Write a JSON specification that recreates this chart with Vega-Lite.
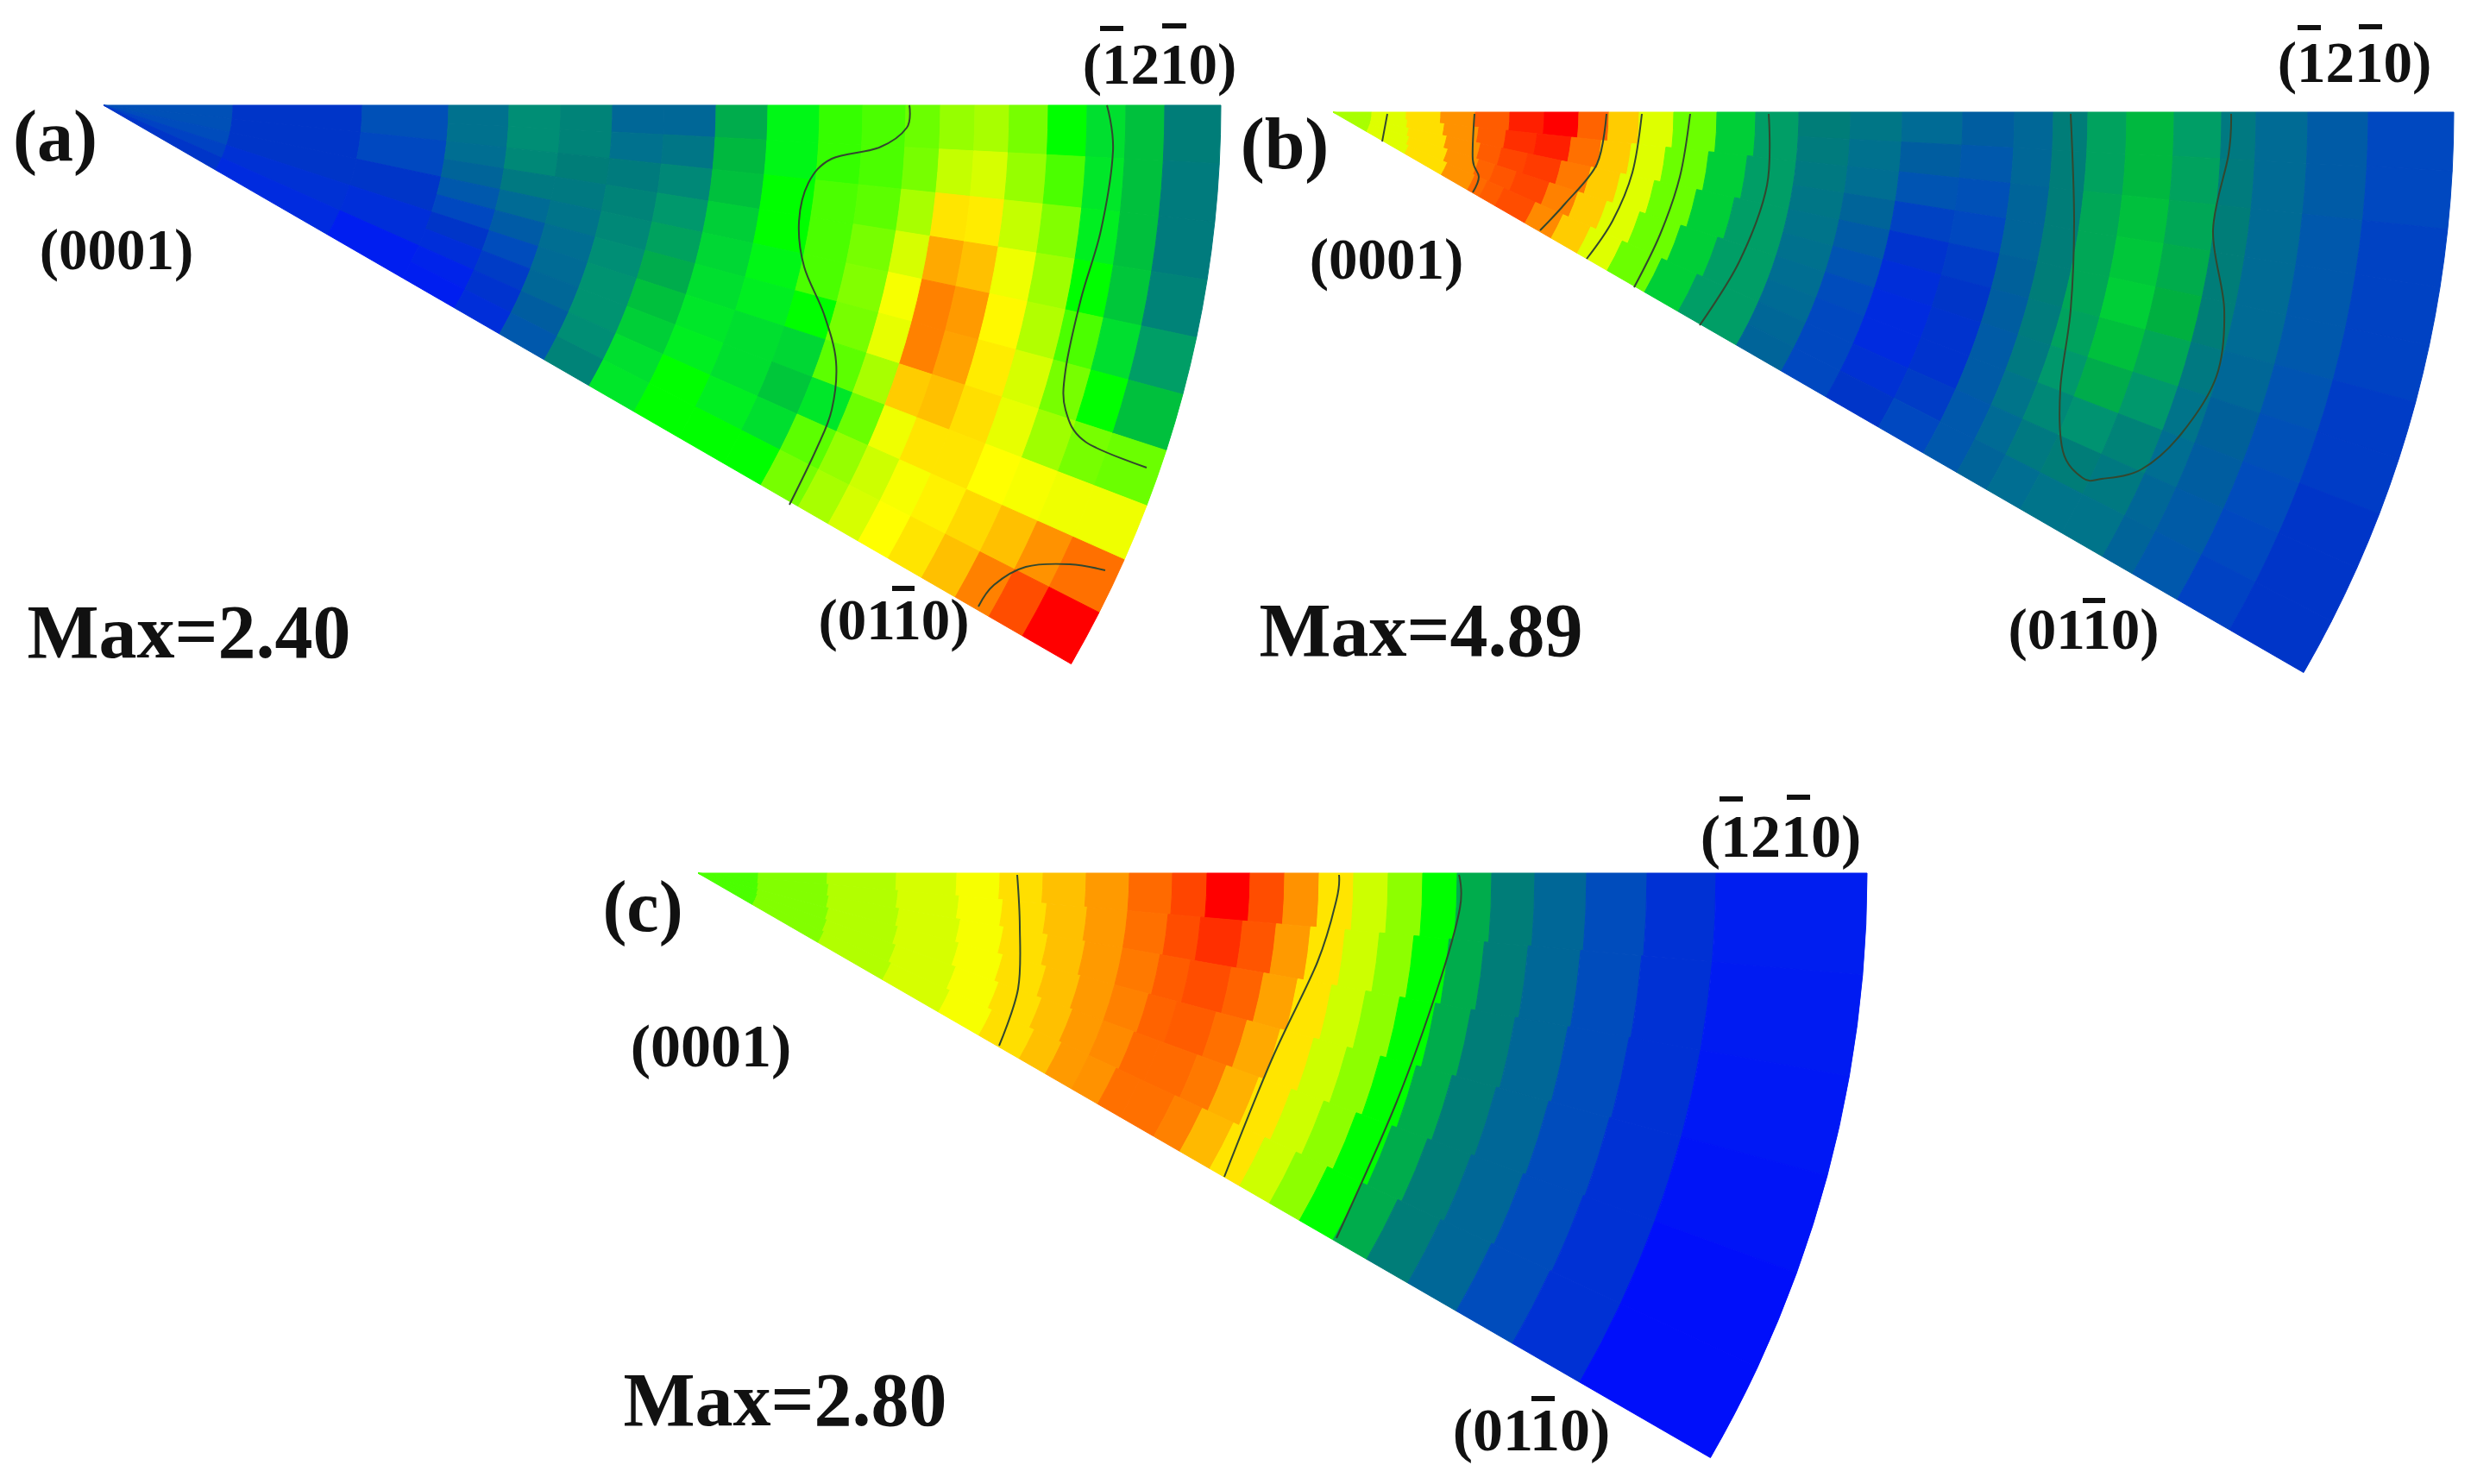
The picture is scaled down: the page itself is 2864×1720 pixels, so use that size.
{"$schema":"https://vega.github.io/schema/vega-lite/v6.json","width":2864,"height":1720,"autosize":{"type":"fit","contains":"padding"},"padding":0,"background":"white","view":{"stroke":null},
"datasets":{
"pa":[
{"a":0,"a2":6,"r":0,"r2":150,"v":1.5},{"a":6,"a2":12,"r":0,"r2":150,"v":1.5},{"a":12,"a2":18,"r":0,"r2":150,"v":1.4},{"a":18,"a2":24,"r":0,"r2":150,"v":1.2},{"a":24,"a2":30,"r":0,"r2":150,"v":1.0},
{"a":0,"a2":6,"r":150,"r2":300,"v":1.0},{"a":6,"a2":12,"r":150,"r2":300,"v":1.0},{"a":12,"a2":18,"r":150,"r2":300,"v":1.0},{"a":18,"a2":24,"r":150,"r2":300,"v":0.8},{"a":24,"a2":30,"r":150,"r2":300,"v":0.6},
{"a":0,"a2":6,"r":300,"r2":400,"v":1.5},{"a":6,"a2":12,"r":300,"r2":400,"v":1.3},{"a":12,"a2":18,"r":300,"r2":400,"v":1.0},{"a":18,"a2":24,"r":300,"r2":400,"v":0.7},{"a":24,"a2":30,"r":300,"r2":400,"v":0.3},
{"a":0,"a2":3,"r":400,"r2":470,"v":2.5},{"a":3,"a2":6,"r":400,"r2":470,"v":2.5},{"a":6,"a2":9,"r":400,"r2":470,"v":2.4},{"a":9,"a2":12,"r":400,"r2":470,"v":2.1},{"a":12,"a2":15,"r":400,"r2":470,"v":1.7},{"a":15,"a2":18,"r":400,"r2":470,"v":1.3},{"a":18,"a2":21,"r":400,"r2":470,"v":1.0},{"a":21,"a2":24,"r":400,"r2":470,"v":0.7},{"a":24,"a2":27,"r":400,"r2":470,"v":0.4},{"a":27,"a2":30,"r":400,"r2":470,"v":0.3},
{"a":0,"a2":3,"r":470,"r2":530,"v":3.3},{"a":3,"a2":6,"r":470,"r2":530,"v":3.3},{"a":6,"a2":9,"r":470,"r2":530,"v":3.2},{"a":9,"a2":12,"r":470,"r2":530,"v":2.8},{"a":12,"a2":15,"r":470,"r2":530,"v":2.3},{"a":15,"a2":18,"r":470,"r2":530,"v":1.8},{"a":18,"a2":21,"r":470,"r2":530,"v":1.4},{"a":21,"a2":24,"r":470,"r2":530,"v":1.1},{"a":24,"a2":27,"r":470,"r2":530,"v":0.9},{"a":27,"a2":30,"r":470,"r2":530,"v":0.7},
{"a":0,"a2":3,"r":530,"r2":590,"v":3.1},{"a":3,"a2":6,"r":530,"r2":590,"v":3.1},{"a":6,"a2":9,"r":530,"r2":590,"v":3.0},{"a":9,"a2":12,"r":530,"r2":590,"v":2.8},{"a":12,"a2":15,"r":530,"r2":590,"v":2.6},{"a":15,"a2":18,"r":530,"r2":590,"v":2.4},{"a":18,"a2":21,"r":530,"r2":590,"v":2.3},{"a":21,"a2":24,"r":530,"r2":590,"v":2.2},{"a":24,"a2":27,"r":530,"r2":590,"v":1.9},{"a":27,"a2":30,"r":530,"r2":590,"v":1.7},
{"a":0,"a2":3,"r":590,"r2":650,"v":2.2},{"a":3,"a2":6,"r":590,"r2":650,"v":2.5},{"a":6,"a2":9,"r":590,"r2":650,"v":2.9},{"a":9,"a2":12,"r":590,"r2":650,"v":3.1},{"a":12,"a2":15,"r":590,"r2":650,"v":3.2},{"a":15,"a2":18,"r":590,"r2":650,"v":3.3},{"a":18,"a2":21,"r":590,"r2":650,"v":3.4},{"a":21,"a2":24,"r":590,"r2":650,"v":3.4},{"a":24,"a2":27,"r":590,"r2":650,"v":3.3},{"a":27,"a2":30,"r":590,"r2":650,"v":3.1},
{"a":0,"a2":3,"r":650,"r2":710,"v":2.2},{"a":3,"a2":6,"r":650,"r2":710,"v":2.7},{"a":6,"a2":9,"r":650,"r2":710,"v":3.2},{"a":9,"a2":12,"r":650,"r2":710,"v":3.5},{"a":12,"a2":15,"r":650,"r2":710,"v":3.7},{"a":15,"a2":18,"r":650,"r2":710,"v":3.9},{"a":18,"a2":21,"r":650,"r2":710,"v":4.2},{"a":21,"a2":24,"r":650,"r2":710,"v":4.4},{"a":24,"a2":27,"r":650,"r2":710,"v":4.6},{"a":27,"a2":30,"r":650,"r2":710,"v":4.7},
{"a":0,"a2":3,"r":710,"r2":770,"v":3.9},{"a":3,"a2":6,"r":710,"r2":770,"v":4.1},{"a":6,"a2":9,"r":710,"r2":770,"v":4.2},{"a":9,"a2":12,"r":710,"r2":770,"v":4.4},{"a":12,"a2":15,"r":710,"r2":770,"v":4.5},{"a":15,"a2":18,"r":710,"r2":770,"v":4.6},{"a":18,"a2":21,"r":710,"r2":770,"v":4.7},{"a":21,"a2":24,"r":710,"r2":770,"v":4.8},{"a":24,"a2":27,"r":710,"r2":770,"v":5.0},{"a":27,"a2":30,"r":710,"r2":770,"v":5.0},
{"a":0,"a2":3,"r":770,"r2":830,"v":4.9},{"a":3,"a2":6,"r":770,"r2":830,"v":4.9},{"a":6,"a2":9,"r":770,"r2":830,"v":5.0},{"a":9,"a2":12,"r":770,"r2":830,"v":5.0},{"a":12,"a2":15,"r":770,"r2":830,"v":4.9},{"a":15,"a2":18,"r":770,"r2":830,"v":4.8},{"a":18,"a2":21,"r":770,"r2":830,"v":4.6},{"a":21,"a2":24,"r":770,"r2":830,"v":4.6},{"a":24,"a2":27,"r":770,"r2":830,"v":4.8},{"a":27,"a2":30,"r":770,"r2":830,"v":5.0},
{"a":0,"a2":3,"r":830,"r2":880,"v":5.1},{"a":3,"a2":6,"r":830,"r2":880,"v":5.1},{"a":6,"a2":9,"r":830,"r2":880,"v":5.2},{"a":9,"a2":12,"r":830,"r2":880,"v":5.2},{"a":12,"a2":15,"r":830,"r2":880,"v":5.2},{"a":15,"a2":18,"r":830,"r2":880,"v":5.0},{"a":18,"a2":21,"r":830,"r2":880,"v":4.5},{"a":21,"a2":24,"r":830,"r2":880,"v":4.3},{"a":24,"a2":27,"r":830,"r2":880,"v":4.6},{"a":27,"a2":30,"r":830,"r2":880,"v":5.0},
{"a":0,"a2":3,"r":880,"r2":930,"v":5.2},{"a":3,"a2":6,"r":880,"r2":930,"v":5.2},{"a":6,"a2":9,"r":880,"r2":930,"v":5.3},{"a":9,"a2":12,"r":880,"r2":930,"v":5.5},{"a":12,"a2":15,"r":880,"r2":930,"v":5.6},{"a":15,"a2":18,"r":880,"r2":930,"v":5.5},{"a":18,"a2":21,"r":880,"r2":930,"v":5.3},{"a":21,"a2":24,"r":880,"r2":930,"v":4.7},{"a":24,"a2":27,"r":880,"r2":930,"v":5.3},{"a":27,"a2":30,"r":880,"r2":930,"v":5.5},
{"a":0,"a2":3,"r":930,"r2":970,"v":5.4},{"a":3,"a2":6,"r":930,"r2":970,"v":5.5},{"a":6,"a2":9,"r":930,"r2":970,"v":6.0},{"a":9,"a2":12,"r":930,"r2":970,"v":6.5},{"a":12,"a2":15,"r":930,"r2":970,"v":6.9},{"a":15,"a2":18,"r":930,"r2":970,"v":6.7},{"a":18,"a2":21,"r":930,"r2":970,"v":6.0},{"a":21,"a2":24,"r":930,"r2":970,"v":5.4},{"a":24,"a2":27,"r":930,"r2":970,"v":5.8},{"a":27,"a2":30,"r":930,"r2":970,"v":6.0},
{"a":0,"a2":3,"r":970,"r2":1010,"v":5.8},{"a":3,"a2":6,"r":970,"r2":1010,"v":6.3},{"a":6,"a2":9,"r":970,"r2":1010,"v":7.4},{"a":9,"a2":12,"r":970,"r2":1010,"v":8.3},{"a":12,"a2":15,"r":970,"r2":1010,"v":8.8},{"a":15,"a2":18,"r":970,"r2":1010,"v":8.8},{"a":18,"a2":21,"r":970,"r2":1010,"v":7.8},{"a":21,"a2":24,"r":970,"r2":1010,"v":6.8},{"a":24,"a2":27,"r":970,"r2":1010,"v":6.4},{"a":27,"a2":30,"r":970,"r2":1010,"v":6.5},
{"a":0,"a2":3,"r":1010,"r2":1050,"v":6.0},{"a":3,"a2":6,"r":1010,"r2":1050,"v":6.5},{"a":6,"a2":9,"r":1010,"r2":1050,"v":7.3},{"a":9,"a2":12,"r":1010,"r2":1050,"v":8.0},{"a":12,"a2":15,"r":1010,"r2":1050,"v":8.5},{"a":15,"a2":18,"r":1010,"r2":1050,"v":8.4},{"a":18,"a2":21,"r":1010,"r2":1050,"v":8.0},{"a":21,"a2":24,"r":1010,"r2":1050,"v":7.4},{"a":24,"a2":27,"r":1010,"r2":1050,"v":6.9},{"a":27,"a2":30,"r":1010,"r2":1050,"v":7.0},
{"a":0,"a2":3,"r":1050,"r2":1095,"v":5.5},{"a":3,"a2":6,"r":1050,"r2":1095,"v":5.8},{"a":6,"a2":9,"r":1050,"r2":1095,"v":6.3},{"a":9,"a2":12,"r":1050,"r2":1095,"v":6.8},{"a":12,"a2":15,"r":1050,"r2":1095,"v":7.1},{"a":15,"a2":18,"r":1050,"r2":1095,"v":7.3},{"a":18,"a2":21,"r":1050,"r2":1095,"v":7.5},{"a":21,"a2":24,"r":1050,"r2":1095,"v":7.4},{"a":24,"a2":27,"r":1050,"r2":1095,"v":7.2},{"a":27,"a2":30,"r":1050,"r2":1095,"v":7.4},
{"a":0,"a2":3,"r":1095,"r2":1140,"v":5.0},{"a":3,"a2":6,"r":1095,"r2":1140,"v":5.2},{"a":6,"a2":9,"r":1095,"r2":1140,"v":5.6},{"a":9,"a2":12,"r":1095,"r2":1140,"v":5.9},{"a":12,"a2":15,"r":1095,"r2":1140,"v":6.1},{"a":15,"a2":18,"r":1095,"r2":1140,"v":6.5},{"a":18,"a2":21,"r":1095,"r2":1140,"v":6.7},{"a":21,"a2":24,"r":1095,"r2":1140,"v":7.0},{"a":24,"a2":27,"r":1095,"r2":1140,"v":7.6},{"a":27,"a2":30,"r":1095,"r2":1140,"v":8.0},
{"a":0,"a2":3,"r":1140,"r2":1185,"v":4.6},{"a":3,"a2":6,"r":1140,"r2":1185,"v":4.7},{"a":6,"a2":9,"r":1140,"r2":1185,"v":4.8},{"a":9,"a2":12,"r":1140,"r2":1185,"v":5.0},{"a":12,"a2":15,"r":1140,"r2":1185,"v":5.2},{"a":15,"a2":18,"r":1140,"r2":1185,"v":5.5},{"a":18,"a2":21,"r":1140,"r2":1185,"v":5.9},{"a":21,"a2":24,"r":1140,"r2":1185,"v":6.9},{"a":24,"a2":27,"r":1140,"r2":1185,"v":8.0},{"a":27,"a2":30,"r":1140,"r2":1185,"v":8.8},
{"a":0,"a2":3,"r":1185,"r2":1230,"v":4.2},{"a":3,"a2":6,"r":1185,"r2":1230,"v":4.2},{"a":6,"a2":9,"r":1185,"r2":1230,"v":4.2},{"a":9,"a2":12,"r":1185,"r2":1230,"v":4.3},{"a":12,"a2":15,"r":1185,"r2":1230,"v":4.6},{"a":15,"a2":18,"r":1185,"r2":1230,"v":5.0},{"a":18,"a2":21,"r":1185,"r2":1230,"v":5.5},{"a":21,"a2":24,"r":1185,"r2":1230,"v":6.8},{"a":24,"a2":27,"r":1185,"r2":1230,"v":8.6},{"a":27,"a2":30,"r":1185,"r2":1230,"v":9.5},
{"a":0,"a2":3,"r":1230,"r2":1295,"v":3.0},{"a":3,"a2":6,"r":1230,"r2":1295,"v":2.9},{"a":6,"a2":9,"r":1230,"r2":1295,"v":2.9},{"a":9,"a2":12,"r":1230,"r2":1295,"v":3.1},{"a":12,"a2":15,"r":1230,"r2":1295,"v":3.6},{"a":15,"a2":18,"r":1230,"r2":1295,"v":4.2},{"a":18,"a2":21,"r":1230,"r2":1295,"v":5.4},{"a":21,"a2":24,"r":1230,"r2":1295,"v":6.8},{"a":24,"a2":27,"r":1230,"r2":1295,"v":9.0},{"a":27,"a2":30,"r":1230,"r2":1295,"v":10}
],
"pb":[
{"a":0,"a2":6,"r":0,"r2":45,"v":6.0},{"a":0,"a2":6,"r":45,"r2":85,"v":6.6},{"a":0,"a2":6,"r":85,"r2":125,"v":7.5},{"a":0,"a2":6,"r":125,"r2":165,"v":8.6},{"a":0,"a2":6,"r":165,"r2":205,"v":9.3},{"a":0,"a2":6,"r":205,"r2":245,"v":9.9},{"a":0,"a2":6,"r":245,"r2":285,"v":10},{"a":0,"a2":6,"r":285,"r2":320,"v":9.2},{"a":0,"a2":6,"r":320,"r2":355,"v":7.8},{"a":0,"a2":6,"r":355,"r2":395,"v":6.6},{"a":0,"a2":6,"r":395,"r2":445,"v":5.4},{"a":0,"a2":6,"r":445,"r2":490,"v":4.4},{"a":0,"a2":6,"r":490,"r2":540,"v":3.6},
{"a":6,"a2":12,"r":0,"r2":45,"v":6.0},{"a":6,"a2":12,"r":45,"r2":87,"v":6.6},{"a":6,"a2":12,"r":87,"r2":130,"v":7.5},{"a":6,"a2":12,"r":130,"r2":170,"v":8.6},{"a":6,"a2":12,"r":170,"r2":202,"v":9.3},{"a":6,"a2":12,"r":202,"r2":238,"v":9.8},{"a":6,"a2":12,"r":238,"r2":278,"v":9.9},{"a":6,"a2":12,"r":278,"r2":313,"v":9.0},{"a":6,"a2":12,"r":313,"r2":348,"v":7.8},{"a":6,"a2":12,"r":348,"r2":388,"v":6.6},{"a":6,"a2":12,"r":388,"r2":438,"v":5.4},{"a":6,"a2":12,"r":438,"r2":483,"v":4.4},{"a":6,"a2":12,"r":483,"r2":540,"v":3.6},
{"a":12,"a2":18,"r":0,"r2":45,"v":6.0},{"a":12,"a2":18,"r":45,"r2":90,"v":6.6},{"a":12,"a2":18,"r":90,"r2":135,"v":7.5},{"a":12,"a2":18,"r":135,"r2":175,"v":8.6},{"a":12,"a2":18,"r":175,"r2":200,"v":9.3},{"a":12,"a2":18,"r":200,"r2":231,"v":9.6},{"a":12,"a2":18,"r":231,"r2":271,"v":9.7},{"a":12,"a2":18,"r":271,"r2":306,"v":8.9},{"a":12,"a2":18,"r":306,"r2":341,"v":7.8},{"a":12,"a2":18,"r":341,"r2":381,"v":6.6},{"a":12,"a2":18,"r":381,"r2":431,"v":5.4},{"a":12,"a2":18,"r":431,"r2":476,"v":4.4},{"a":12,"a2":18,"r":476,"r2":540,"v":3.6},
{"a":18,"a2":24,"r":0,"r2":45,"v":6.0},{"a":18,"a2":24,"r":45,"r2":93,"v":6.6},{"a":18,"a2":24,"r":93,"r2":140,"v":7.5},{"a":18,"a2":24,"r":140,"r2":178,"v":8.6},{"a":18,"a2":24,"r":178,"r2":198,"v":9.2},{"a":18,"a2":24,"r":198,"r2":224,"v":9.4},{"a":18,"a2":24,"r":224,"r2":264,"v":9.6},{"a":18,"a2":24,"r":264,"r2":299,"v":8.8},{"a":18,"a2":24,"r":299,"r2":334,"v":7.8},{"a":18,"a2":24,"r":334,"r2":374,"v":6.6},{"a":18,"a2":24,"r":374,"r2":424,"v":5.4},{"a":18,"a2":24,"r":424,"r2":469,"v":4.4},{"a":18,"a2":24,"r":469,"r2":540,"v":3.6},
{"a":24,"a2":30,"r":0,"r2":45,"v":6.0},{"a":24,"a2":30,"r":45,"r2":96,"v":6.6},{"a":24,"a2":30,"r":96,"r2":145,"v":7.5},{"a":24,"a2":30,"r":145,"r2":180,"v":8.6},{"a":24,"a2":30,"r":180,"r2":196,"v":9.1},{"a":24,"a2":30,"r":196,"r2":217,"v":9.3},{"a":24,"a2":30,"r":217,"r2":257,"v":9.5},{"a":24,"a2":30,"r":257,"r2":292,"v":8.7},{"a":24,"a2":30,"r":292,"r2":327,"v":7.8},{"a":24,"a2":30,"r":327,"r2":367,"v":6.6},{"a":24,"a2":30,"r":367,"r2":417,"v":5.4},{"a":24,"a2":30,"r":417,"r2":462,"v":4.4},{"a":24,"a2":30,"r":462,"r2":540,"v":3.6},
{"a":0,"a2":3,"r":540,"r2":600,"v":3.0},{"a":3,"a2":6,"r":540,"r2":600,"v":2.9},{"a":6,"a2":9,"r":540,"r2":600,"v":2.8},{"a":9,"a2":12,"r":540,"r2":600,"v":2.7},{"a":12,"a2":15,"r":540,"r2":600,"v":2.6},{"a":15,"a2":18,"r":540,"r2":600,"v":2.5},{"a":18,"a2":21,"r":540,"r2":600,"v":2.4},{"a":21,"a2":24,"r":540,"r2":600,"v":2.3},{"a":24,"a2":27,"r":540,"r2":600,"v":2.2},{"a":27,"a2":30,"r":540,"r2":600,"v":2.1},
{"a":0,"a2":3,"r":600,"r2":660,"v":2.7},{"a":3,"a2":6,"r":600,"r2":660,"v":2.5},{"a":6,"a2":9,"r":600,"r2":660,"v":2.4},{"a":9,"a2":12,"r":600,"r2":660,"v":2.1},{"a":12,"a2":15,"r":600,"r2":660,"v":1.8},{"a":15,"a2":18,"r":600,"r2":660,"v":1.6},{"a":18,"a2":21,"r":600,"r2":660,"v":1.4},{"a":21,"a2":24,"r":600,"r2":660,"v":1.3},{"a":24,"a2":27,"r":600,"r2":660,"v":1.3},{"a":27,"a2":30,"r":600,"r2":660,"v":1.3},
{"a":0,"a2":3,"r":660,"r2":730,"v":2.3},{"a":3,"a2":6,"r":660,"r2":730,"v":1.9},{"a":6,"a2":9,"r":660,"r2":730,"v":1.6},{"a":9,"a2":12,"r":660,"r2":730,"v":1.2},{"a":12,"a2":15,"r":660,"r2":730,"v":0.9},{"a":15,"a2":18,"r":660,"r2":730,"v":0.7},{"a":18,"a2":21,"r":660,"r2":730,"v":0.6},{"a":21,"a2":24,"r":660,"r2":730,"v":0.6},{"a":24,"a2":27,"r":660,"r2":730,"v":0.8},{"a":27,"a2":30,"r":660,"r2":730,"v":1.0},
{"a":0,"a2":3,"r":730,"r2":790,"v":1.9},{"a":3,"a2":6,"r":730,"r2":790,"v":1.7},{"a":6,"a2":9,"r":730,"r2":790,"v":1.5},{"a":9,"a2":12,"r":730,"r2":790,"v":1.3},{"a":12,"a2":15,"r":730,"r2":790,"v":1.1},{"a":15,"a2":18,"r":730,"r2":790,"v":1.0},{"a":18,"a2":21,"r":730,"r2":790,"v":0.9},{"a":21,"a2":24,"r":730,"r2":790,"v":0.9},{"a":24,"a2":27,"r":730,"r2":790,"v":1.1},{"a":27,"a2":30,"r":730,"r2":790,"v":1.3},
{"a":0,"a2":3,"r":790,"r2":835,"v":2.2},{"a":3,"a2":6,"r":790,"r2":835,"v":2.2},{"a":6,"a2":9,"r":790,"r2":835,"v":2.1},{"a":9,"a2":12,"r":790,"r2":835,"v":2.1},{"a":12,"a2":15,"r":790,"r2":835,"v":2.0},{"a":15,"a2":18,"r":790,"r2":835,"v":1.9},{"a":18,"a2":21,"r":790,"r2":835,"v":1.8},{"a":21,"a2":24,"r":790,"r2":835,"v":1.8},{"a":24,"a2":27,"r":790,"r2":835,"v":1.7},{"a":27,"a2":30,"r":790,"r2":835,"v":1.7},
{"a":0,"a2":3,"r":835,"r2":875,"v":3.0},{"a":3,"a2":6,"r":835,"r2":875,"v":3.0},{"a":6,"a2":9,"r":835,"r2":875,"v":3.0},{"a":9,"a2":12,"r":835,"r2":875,"v":3.0},{"a":12,"a2":15,"r":835,"r2":875,"v":3.0},{"a":15,"a2":18,"r":835,"r2":875,"v":2.9},{"a":18,"a2":21,"r":835,"r2":875,"v":2.8},{"a":21,"a2":24,"r":835,"r2":875,"v":2.6},{"a":24,"a2":27,"r":835,"r2":875,"v":2.3},{"a":27,"a2":30,"r":835,"r2":875,"v":2.1},
{"a":0,"a2":3,"r":875,"r2":920,"v":3.7},{"a":3,"a2":6,"r":875,"r2":920,"v":3.7},{"a":6,"a2":9,"r":875,"r2":920,"v":3.8},{"a":9,"a2":12,"r":875,"r2":920,"v":3.8},{"a":12,"a2":15,"r":875,"r2":920,"v":3.8},{"a":15,"a2":18,"r":875,"r2":920,"v":3.7},{"a":18,"a2":21,"r":875,"r2":920,"v":3.5},{"a":21,"a2":24,"r":875,"r2":920,"v":3.2},{"a":24,"a2":27,"r":875,"r2":920,"v":2.8},{"a":27,"a2":30,"r":875,"r2":920,"v":2.4},
{"a":0,"a2":3,"r":920,"r2":975,"v":4.1},{"a":3,"a2":6,"r":920,"r2":975,"v":4.1},{"a":6,"a2":9,"r":920,"r2":975,"v":4.2},{"a":9,"a2":12,"r":920,"r2":975,"v":4.3},{"a":12,"a2":15,"r":920,"r2":975,"v":4.4},{"a":15,"a2":18,"r":920,"r2":975,"v":4.2},{"a":18,"a2":21,"r":920,"r2":975,"v":3.9},{"a":21,"a2":24,"r":920,"r2":975,"v":3.4},{"a":24,"a2":27,"r":920,"r2":975,"v":3.0},{"a":27,"a2":30,"r":920,"r2":975,"v":2.6},
{"a":0,"a2":3,"r":975,"r2":1030,"v":3.6},{"a":3,"a2":6,"r":975,"r2":1030,"v":3.7},{"a":6,"a2":9,"r":975,"r2":1030,"v":3.8},{"a":9,"a2":12,"r":975,"r2":1030,"v":3.9},{"a":12,"a2":15,"r":975,"r2":1030,"v":4.0},{"a":15,"a2":18,"r":975,"r2":1030,"v":3.8},{"a":18,"a2":21,"r":975,"r2":1030,"v":3.5},{"a":21,"a2":24,"r":975,"r2":1030,"v":3.1},{"a":24,"a2":27,"r":975,"r2":1030,"v":2.8},{"a":27,"a2":30,"r":975,"r2":1030,"v":2.6},
{"a":0,"a2":3,"r":1030,"r2":1070,"v":2.8},{"a":3,"a2":6,"r":1030,"r2":1070,"v":2.9},{"a":6,"a2":9,"r":1030,"r2":1070,"v":3.0},{"a":9,"a2":12,"r":1030,"r2":1070,"v":3.0},{"a":12,"a2":15,"r":1030,"r2":1070,"v":3.0},{"a":15,"a2":18,"r":1030,"r2":1070,"v":2.8},{"a":18,"a2":21,"r":1030,"r2":1070,"v":2.6},{"a":21,"a2":24,"r":1030,"r2":1070,"v":2.4},{"a":24,"a2":27,"r":1030,"r2":1070,"v":2.2},{"a":27,"a2":30,"r":1030,"r2":1070,"v":2.1},
{"a":0,"a2":3,"r":1070,"r2":1130,"v":2.3},{"a":3,"a2":6,"r":1070,"r2":1130,"v":2.3},{"a":6,"a2":9,"r":1070,"r2":1130,"v":2.3},{"a":9,"a2":12,"r":1070,"r2":1130,"v":2.3},{"a":12,"a2":15,"r":1070,"r2":1130,"v":2.3},{"a":15,"a2":18,"r":1070,"r2":1130,"v":2.2},{"a":18,"a2":21,"r":1070,"r2":1130,"v":2.0},{"a":21,"a2":24,"r":1070,"r2":1130,"v":1.9},{"a":24,"a2":27,"r":1070,"r2":1130,"v":1.8},{"a":27,"a2":30,"r":1070,"r2":1130,"v":1.7},
{"a":0,"a2":3,"r":1130,"r2":1200,"v":1.8},{"a":3,"a2":6,"r":1130,"r2":1200,"v":1.8},{"a":6,"a2":9,"r":1130,"r2":1200,"v":1.7},{"a":9,"a2":12,"r":1130,"r2":1200,"v":1.7},{"a":12,"a2":15,"r":1130,"r2":1200,"v":1.7},{"a":15,"a2":18,"r":1130,"r2":1200,"v":1.6},{"a":18,"a2":21,"r":1130,"r2":1200,"v":1.5},{"a":21,"a2":24,"r":1130,"r2":1200,"v":1.4},{"a":24,"a2":27,"r":1130,"r2":1200,"v":1.3},{"a":27,"a2":30,"r":1130,"r2":1200,"v":1.2},
{"a":0,"a2":3,"r":1200,"r2":1299,"v":1.3},{"a":3,"a2":6,"r":1200,"r2":1299,"v":1.3},{"a":6,"a2":9,"r":1200,"r2":1299,"v":1.2},{"a":9,"a2":12,"r":1200,"r2":1299,"v":1.2},{"a":12,"a2":15,"r":1200,"r2":1299,"v":1.2},{"a":15,"a2":18,"r":1200,"r2":1299,"v":1.1},{"a":18,"a2":21,"r":1200,"r2":1299,"v":1.1},{"a":21,"a2":24,"r":1200,"r2":1299,"v":1.0},{"a":24,"a2":27,"r":1200,"r2":1299,"v":1.0},{"a":27,"a2":30,"r":1200,"r2":1299,"v":1.0}
],
"pc":[
{"a":0,"a2":5,"r":0,"r2":70,"v":5.2},{"a":0,"a2":5,"r":70,"r2":150,"v":5.6},{"a":0,"a2":5,"r":150,"r2":230,"v":6.1},{"a":0,"a2":5,"r":230,"r2":300,"v":6.5},{"a":0,"a2":5,"r":300,"r2":350,"v":6.9},{"a":0,"a2":5,"r":350,"r2":400,"v":7.5},{"a":0,"a2":5,"r":400,"r2":450,"v":8.0},{"a":0,"a2":5,"r":450,"r2":500,"v":8.5},{"a":0,"a2":5,"r":500,"r2":550,"v":9.1},{"a":0,"a2":5,"r":550,"r2":590,"v":9.6},{"a":0,"a2":5,"r":590,"r2":640,"v":10},{"a":0,"a2":5,"r":640,"r2":680,"v":9.5},{"a":0,"a2":5,"r":680,"r2":720,"v":8.6},{"a":0,"a2":5,"r":720,"r2":760,"v":7.4},{"a":0,"a2":5,"r":760,"r2":800,"v":6.4},{"a":0,"a2":5,"r":800,"r2":840,"v":5.7},{"a":0,"a2":5,"r":840,"r2":880,"v":5.0},{"a":0,"a2":5,"r":880,"r2":920,"v":3.9},{"a":0,"a2":5,"r":920,"r2":970,"v":3.0},{"a":0,"a2":5,"r":970,"r2":1030,"v":2.2},{"a":0,"a2":5,"r":1030,"r2":1100,"v":1.4},{"a":0,"a2":5,"r":1100,"r2":1180,"v":0.8},{"a":0,"a2":5,"r":1180,"r2":1355,"v":0.3},
{"a":5,"a2":10,"r":0,"r2":70,"v":5.2},{"a":5,"a2":10,"r":70,"r2":152,"v":5.6},{"a":5,"a2":10,"r":152,"r2":233,"v":6.1},{"a":5,"a2":10,"r":233,"r2":304,"v":6.5},{"a":5,"a2":10,"r":304,"r2":355,"v":6.9},{"a":5,"a2":10,"r":355,"r2":406,"v":7.5},{"a":5,"a2":10,"r":406,"r2":453,"v":8.0},{"a":5,"a2":10,"r":453,"r2":500,"v":8.5},{"a":5,"a2":10,"r":500,"r2":547,"v":9.0},{"a":5,"a2":10,"r":547,"r2":585,"v":9.5},{"a":5,"a2":10,"r":585,"r2":634,"v":9.8},{"a":5,"a2":10,"r":634,"r2":673,"v":9.4},{"a":5,"a2":10,"r":673,"r2":713,"v":8.5},{"a":5,"a2":10,"r":713,"r2":753,"v":7.4},{"a":5,"a2":10,"r":753,"r2":793,"v":6.4},{"a":5,"a2":10,"r":793,"r2":833,"v":5.7},{"a":5,"a2":10,"r":833,"r2":874,"v":5.0},{"a":5,"a2":10,"r":874,"r2":915,"v":3.9},{"a":5,"a2":10,"r":915,"r2":966,"v":3.0},{"a":5,"a2":10,"r":966,"r2":1027,"v":2.2},{"a":5,"a2":10,"r":1027,"r2":1098,"v":1.4},{"a":5,"a2":10,"r":1098,"r2":1180,"v":0.8},{"a":5,"a2":10,"r":1180,"r2":1355,"v":0.25},
{"a":10,"a2":15,"r":0,"r2":71,"v":5.2},{"a":10,"a2":15,"r":71,"r2":154,"v":5.6},{"a":10,"a2":15,"r":154,"r2":237,"v":6.1},{"a":10,"a2":15,"r":237,"r2":309,"v":6.5},{"a":10,"a2":15,"r":309,"r2":360,"v":6.9},{"a":10,"a2":15,"r":360,"r2":412,"v":7.5},{"a":10,"a2":15,"r":412,"r2":456,"v":8.0},{"a":10,"a2":15,"r":456,"r2":500,"v":8.5},{"a":10,"a2":15,"r":500,"r2":544,"v":8.9},{"a":10,"a2":15,"r":544,"r2":580,"v":9.3},{"a":10,"a2":15,"r":580,"r2":628,"v":9.5},{"a":10,"a2":15,"r":628,"r2":666,"v":9.2},{"a":10,"a2":15,"r":666,"r2":706,"v":8.4},{"a":10,"a2":15,"r":706,"r2":746,"v":7.4},{"a":10,"a2":15,"r":746,"r2":786,"v":6.4},{"a":10,"a2":15,"r":786,"r2":826,"v":5.7},{"a":10,"a2":15,"r":826,"r2":868,"v":5.0},{"a":10,"a2":15,"r":868,"r2":910,"v":3.9},{"a":10,"a2":15,"r":910,"r2":962,"v":3.0},{"a":10,"a2":15,"r":962,"r2":1024,"v":2.2},{"a":10,"a2":15,"r":1024,"r2":1096,"v":1.4},{"a":10,"a2":15,"r":1096,"r2":1180,"v":0.8},{"a":10,"a2":15,"r":1180,"r2":1355,"v":0.2},
{"a":15,"a2":20,"r":0,"r2":72,"v":5.2},{"a":15,"a2":20,"r":72,"r2":157,"v":5.6},{"a":15,"a2":20,"r":157,"r2":240,"v":6.1},{"a":15,"a2":20,"r":240,"r2":313,"v":6.5},{"a":15,"a2":20,"r":313,"r2":366,"v":6.9},{"a":15,"a2":20,"r":366,"r2":418,"v":7.5},{"a":15,"a2":20,"r":418,"r2":459,"v":8.0},{"a":15,"a2":20,"r":459,"r2":500,"v":8.5},{"a":15,"a2":20,"r":500,"r2":541,"v":8.8},{"a":15,"a2":20,"r":541,"r2":575,"v":9.2},{"a":15,"a2":20,"r":575,"r2":622,"v":9.3},{"a":15,"a2":20,"r":622,"r2":659,"v":9.0},{"a":15,"a2":20,"r":659,"r2":699,"v":8.3},{"a":15,"a2":20,"r":699,"r2":739,"v":7.4},{"a":15,"a2":20,"r":739,"r2":779,"v":6.4},{"a":15,"a2":20,"r":779,"r2":819,"v":5.7},{"a":15,"a2":20,"r":819,"r2":862,"v":5.0},{"a":15,"a2":20,"r":862,"r2":905,"v":3.9},{"a":15,"a2":20,"r":905,"r2":958,"v":3.0},{"a":15,"a2":20,"r":958,"r2":1021,"v":2.2},{"a":15,"a2":20,"r":1021,"r2":1094,"v":1.4},{"a":15,"a2":20,"r":1094,"r2":1180,"v":0.8},{"a":15,"a2":20,"r":1180,"r2":1355,"v":0.15},
{"a":20,"a2":25,"r":0,"r2":73,"v":5.2},{"a":20,"a2":25,"r":73,"r2":159,"v":5.6},{"a":20,"a2":25,"r":159,"r2":244,"v":6.1},{"a":20,"a2":25,"r":244,"r2":318,"v":6.5},{"a":20,"a2":25,"r":318,"r2":371,"v":6.9},{"a":20,"a2":25,"r":371,"r2":424,"v":7.5},{"a":20,"a2":25,"r":424,"r2":462,"v":8.0},{"a":20,"a2":25,"r":462,"r2":500,"v":8.5},{"a":20,"a2":25,"r":500,"r2":538,"v":8.7},{"a":20,"a2":25,"r":538,"r2":570,"v":9.1},{"a":20,"a2":25,"r":570,"r2":616,"v":9.1},{"a":20,"a2":25,"r":616,"r2":652,"v":8.9},{"a":20,"a2":25,"r":652,"r2":692,"v":8.2},{"a":20,"a2":25,"r":692,"r2":732,"v":7.4},{"a":20,"a2":25,"r":732,"r2":772,"v":6.4},{"a":20,"a2":25,"r":772,"r2":812,"v":5.7},{"a":20,"a2":25,"r":812,"r2":856,"v":5.0},{"a":20,"a2":25,"r":856,"r2":900,"v":3.9},{"a":20,"a2":25,"r":900,"r2":954,"v":3.0},{"a":20,"a2":25,"r":954,"r2":1018,"v":2.2},{"a":20,"a2":25,"r":1018,"r2":1092,"v":1.4},{"a":20,"a2":25,"r":1092,"r2":1180,"v":0.8},{"a":20,"a2":25,"r":1180,"r2":1355,"v":0.1},
{"a":25,"a2":30,"r":0,"r2":73,"v":5.2},{"a":25,"a2":30,"r":73,"r2":161,"v":5.6},{"a":25,"a2":30,"r":161,"r2":247,"v":6.1},{"a":25,"a2":30,"r":247,"r2":322,"v":6.5},{"a":25,"a2":30,"r":322,"r2":376,"v":6.9},{"a":25,"a2":30,"r":376,"r2":430,"v":7.5},{"a":25,"a2":30,"r":430,"r2":465,"v":8.0},{"a":25,"a2":30,"r":465,"r2":500,"v":8.5},{"a":25,"a2":30,"r":500,"r2":535,"v":8.6},{"a":25,"a2":30,"r":535,"r2":565,"v":9.0},{"a":25,"a2":30,"r":565,"r2":610,"v":9.0},{"a":25,"a2":30,"r":610,"r2":645,"v":8.8},{"a":25,"a2":30,"r":645,"r2":685,"v":8.1},{"a":25,"a2":30,"r":685,"r2":725,"v":7.4},{"a":25,"a2":30,"r":725,"r2":765,"v":6.4},{"a":25,"a2":30,"r":765,"r2":805,"v":5.7},{"a":25,"a2":30,"r":805,"r2":850,"v":5.0},{"a":25,"a2":30,"r":850,"r2":895,"v":3.9},{"a":25,"a2":30,"r":895,"r2":950,"v":3.0},{"a":25,"a2":30,"r":950,"r2":1015,"v":2.2},{"a":25,"a2":30,"r":1015,"r2":1090,"v":1.4},{"a":25,"a2":30,"r":1090,"r2":1180,"v":0.8},{"a":25,"a2":30,"r":1180,"r2":1355,"v":0.1}
],
"contours":[
{"c":"a1","i":1,"x":1054,"y":122},{"c":"a1","i":2,"x":1051,"y":148},{"c":"a1","i":3,"x":1019,"y":171},{"c":"a1","i":4,"x":964,"y":184},{"c":"a1","i":5,"x":937,"y":212},{"c":"a1","i":6,"x":926,"y":258},{"c":"a1","i":7,"x":932,"y":309},{"c":"a1","i":8,"x":955,"y":364},{"c":"a1","i":9,"x":969,"y":419},{"c":"a1","i":10,"x":964,"y":475},{"c":"a1","i":11,"x":946,"y":521},{"c":"a1","i":12,"x":915,"y":585},
{"c":"a2","i":1,"x":1283,"y":122},{"c":"a2","i":2,"x":1290,"y":175},{"c":"a2","i":3,"x":1276,"y":267},{"c":"a2","i":4,"x":1253,"y":346},{"c":"a2","i":5,"x":1235,"y":429},{"c":"a2","i":6,"x":1235,"y":475},{"c":"a2","i":7,"x":1258,"y":512},{"c":"a2","i":8,"x":1329,"y":542},
{"c":"a3","i":1,"x":1134,"y":703},{"c":"a3","i":2,"x":1152,"y":678},{"c":"a3","i":3,"x":1189,"y":657},{"c":"a3","i":4,"x":1240,"y":654},{"c":"a3","i":5,"x":1281,"y":661},
{"c":"b1","i":1,"x":1608,"y":132},{"c":"b1","i":2,"x":1602,"y":164},
{"c":"b2","i":1,"x":1709,"y":132},{"c":"b2","i":2,"x":1707,"y":185},{"c":"b2","i":3,"x":1714,"y":205},{"c":"b2","i":4,"x":1707,"y":223},
{"c":"b3","i":1,"x":1862,"y":132},{"c":"b3","i":2,"x":1851,"y":190},{"c":"b3","i":3,"x":1814,"y":236},{"c":"b3","i":4,"x":1785,"y":267},
{"c":"b4","i":1,"x":1903,"y":132},{"c":"b4","i":2,"x":1892,"y":200},{"c":"b4","i":3,"x":1869,"y":256},{"c":"b4","i":4,"x":1839,"y":300},
{"c":"b5","i":1,"x":1959,"y":132},{"c":"b5","i":2,"x":1947,"y":205},{"c":"b5","i":3,"x":1924,"y":272},{"c":"b5","i":4,"x":1894,"y":333},
{"c":"b6","i":1,"x":2050,"y":132},{"c":"b6","i":2,"x":2048,"y":215},{"c":"b6","i":3,"x":2016,"y":303},{"c":"b6","i":4,"x":1970,"y":377},
{"c":"b7","i":1,"x":2400,"y":132},{"c":"b7","i":2,"x":2404,"y":256},{"c":"b7","i":3,"x":2400,"y":359},{"c":"b7","i":4,"x":2388,"y":451},{"c":"b7","i":5,"x":2391,"y":523},{"c":"b7","i":6,"x":2414,"y":554},{"c":"b7","i":7,"x":2436,"y":555},{"c":"b7","i":8,"x":2482,"y":544},{"c":"b7","i":9,"x":2528,"y":503},{"c":"b7","i":10,"x":2569,"y":436},{"c":"b7","i":11,"x":2578,"y":359},{"c":"b7","i":12,"x":2565,"y":267},{"c":"b7","i":13,"x":2583,"y":179},{"c":"b7","i":14,"x":2586,"y":132},
{"c":"c1","i":1,"x":1179,"y":1014},{"c":"c1","i":2,"x":1182,"y":1074},{"c":"c1","i":3,"x":1180,"y":1146},{"c":"c1","i":4,"x":1158,"y":1212},
{"c":"c2","i":1,"x":1552,"y":1014},{"c":"c2","i":2,"x":1549,"y":1043},{"c":"c2","i":3,"x":1527,"y":1115},{"c":"c2","i":4,"x":1474,"y":1228},{"c":"c2","i":5,"x":1419,"y":1364},
{"c":"c3","i":1,"x":1691,"y":1014},{"c":"c3","i":2,"x":1692,"y":1053},{"c":"c3","i":3,"x":1666,"y":1146},{"c":"c3","i":4,"x":1618,"y":1279},{"c":"c3","i":5,"x":1549,"y":1435}
],
"bars":[
{"x":1275,"x2":1302,"y":33},{"x":1347,"x2":1375,"y":30},{"x":2663,"x2":2690,"y":32},{"x":2734,"x2":2761,"y":31},{"x":1993,"x2":2020,"y":926},{"x":2071,"x2":2098,"y":924},{"x":1034,"x2":1060,"y":682},{"x":2414,"x2":2440,"y":696},{"x":1775,"x2":1802,"y":1621}
],
"labels":[
{"x":64,"y":161,"t":"(a)","s":84},{"x":1489,"y":170,"t":"(b)","s":84},{"x":745,"y":1054,"t":"(c)","s":84},
{"x":135,"y":292,"t":"(0001)","s":67},{"x":1607,"y":303,"t":"(0001)","s":67},{"x":824,"y":1215,"t":"(0001)","s":70},
{"x":1344,"y":77,"t":"(1210)","s":67},{"x":2729,"y":75,"t":"(1210)","s":67},{"x":2064,"y":972,"t":"(1210)","s":70},
{"x":1036,"y":721,"t":"(0110)","s":67},{"x":2415,"y":732,"t":"(0110)","s":67},{"x":1775,"y":1660,"t":"(0110)","s":70},
{"x":219,"y":736,"t":"Max=2.40","s":88},{"x":1647,"y":734,"t":"Max=4.89","s":88},{"x":910,"y":1626,"t":"Max=2.80","s":88}
]},
"layer":[
{"data":{"name":"pa"},"mark":{"type":"arc","strokeWidth":1},"encoding":{
"x":{"datum":120,"type":"quantitative","scale":{"domain":[0,2864]},"axis":null},"y":{"datum":122,"type":"quantitative","scale":{"domain":[0,1720],"reverse":true},"axis":null},
"theta":{"field":"a","type":"quantitative","scale":{"domain":[-90,270],"range":[0,6.283185]}},"theta2":{"field":"a2"},
"radius":{"field":"r2","type":"quantitative","scale":{"type":"linear","domain":[0,1400],"range":[0,1400]}},"radius2":{"field":"r"},
"color":{"field":"v","type":"quantitative","scale":{"domain":[0,1,2,3,4,5,6,7,8,9,10],"range":["#0000ff","#0035c8","#00609a","#007d78","#00b040","#00ff00","#a8ff00","#ffff00","#ffc000","#ff7000","#ff0000"]},"legend":null},
"stroke":{"field":"v","type":"quantitative","scale":{"domain":[0,1,2,3,4,5,6,7,8,9,10],"range":["#0000ff","#0035c8","#00609a","#007d78","#00b040","#00ff00","#a8ff00","#ffff00","#ffc000","#ff7000","#ff0000"]},"legend":null}}},
{"data":{"name":"pb"},"mark":{"type":"arc","strokeWidth":1},"encoding":{
"x":{"datum":1545,"type":"quantitative","scale":{"domain":[0,2864]},"axis":null},"y":{"datum":130,"type":"quantitative","scale":{"domain":[0,1720],"reverse":true},"axis":null},
"theta":{"field":"a","type":"quantitative","scale":{"domain":[-90,270],"range":[0,6.283185]}},"theta2":{"field":"a2"},
"radius":{"field":"r2","type":"quantitative","scale":{"type":"linear","domain":[0,1400],"range":[0,1400]}},"radius2":{"field":"r"},
"color":{"field":"v","type":"quantitative","scale":{"domain":[0,1,2,3,4,5,6,7,8,9,10],"range":["#0000ff","#0035c8","#00609a","#007d78","#00b040","#00ff00","#a8ff00","#ffff00","#ffc000","#ff7000","#ff0000"]},"legend":null},
"stroke":{"field":"v","type":"quantitative","scale":{"domain":[0,1,2,3,4,5,6,7,8,9,10],"range":["#0000ff","#0035c8","#00609a","#007d78","#00b040","#00ff00","#a8ff00","#ffff00","#ffc000","#ff7000","#ff0000"]},"legend":null}}},
{"data":{"name":"pc"},"mark":{"type":"arc","strokeWidth":1},"encoding":{
"x":{"datum":809,"type":"quantitative","scale":{"domain":[0,2864]},"axis":null},"y":{"datum":1012,"type":"quantitative","scale":{"domain":[0,1720],"reverse":true},"axis":null},
"theta":{"field":"a","type":"quantitative","scale":{"domain":[-90,270],"range":[0,6.283185]}},"theta2":{"field":"a2"},
"radius":{"field":"r2","type":"quantitative","scale":{"type":"linear","domain":[0,1400],"range":[0,1400]}},"radius2":{"field":"r"},
"color":{"field":"v","type":"quantitative","scale":{"domain":[0,1,2,3,4,5,6,7,8,9,10],"range":["#0000ff","#0035c8","#00609a","#007d78","#00b040","#00ff00","#a8ff00","#ffff00","#ffc000","#ff7000","#ff0000"]},"legend":null},
"stroke":{"field":"v","type":"quantitative","scale":{"domain":[0,1,2,3,4,5,6,7,8,9,10],"range":["#0000ff","#0035c8","#00609a","#007d78","#00b040","#00ff00","#a8ff00","#ffff00","#ffc000","#ff7000","#ff0000"]},"legend":null}}},
{"data":{"name":"contours"},"mark":{"type":"line","color":"#33472f","strokeWidth":2,"interpolate":"cardinal"},"encoding":{
"x":{"field":"x","type":"quantitative","scale":{"domain":[0,2864]},"axis":null},"y":{"field":"y","type":"quantitative","scale":{"domain":[0,1720],"reverse":true},"axis":null},"detail":{"field":"c"},"order":{"field":"i","type":"quantitative"}}},
{"data":{"name":"bars"},"mark":{"type":"rule","color":"#111111","strokeWidth":6},"encoding":{
"x":{"field":"x","type":"quantitative","scale":{"domain":[0,2864]},"axis":null},"x2":{"field":"x2"},"y":{"field":"y","type":"quantitative","scale":{"domain":[0,1720],"reverse":true},"axis":null}}},
{"data":{"name":"labels"},"mark":{"type":"text","font":"Liberation Serif","fontWeight":"bold","align":"center","baseline":"middle","color":"#111111"},"encoding":{
"x":{"field":"x","type":"quantitative","scale":{"domain":[0,2864]},"axis":null},"y":{"field":"y","type":"quantitative","scale":{"domain":[0,1720],"reverse":true},"axis":null},"text":{"field":"t"},"size":{"field":"s","type":"quantitative","scale":null}}}
]}
